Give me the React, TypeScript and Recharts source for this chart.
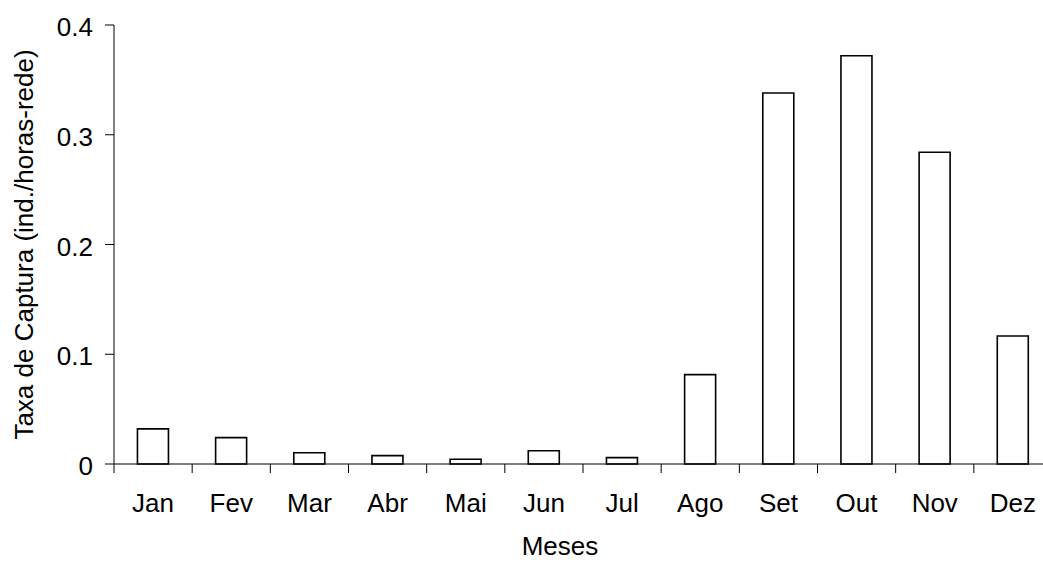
import React from 'react';
import { BarChart, Bar, XAxis, YAxis, Label } from 'recharts';

const months = ['Jan', 'Fev', 'Mar', 'Abr', 'Mai', 'Jun', 'Jul', 'Ago', 'Set', 'Out', 'Nov', 'Dez'];
const captureRate = [0.032, 0.024, 0.0103, 0.0076, 0.0043, 0.0121, 0.0058, 0.0814, 0.338, 0.372, 0.284, 0.1166];
const yTicks = [0, 0.1, 0.2, 0.3, 0.4];

const data = months.map((m, i) => ({ month: m, rate: captureRate[i] }));

const FONT = '"Liberation Sans", Arial, Helvetica, sans-serif';
const X_TICK_MARGIN = 30;

const XTick = (props: any) => {
  const { x, y, payload, index } = props;
  const half = payload && payload.offset ? payload.offset : 39.08;
  const axisY = y - X_TICK_MARGIN;
  const isLast = index === months.length - 1;
  return (
    <g>
      <line x1={x - half} x2={x - half} y1={axisY} y2={axisY + 9} stroke="#000" strokeWidth={1} />
      {isLast && (
        <line x1={x + half} x2={x + half} y1={axisY} y2={axisY + 9} stroke="#000" strokeWidth={1} />
      )}
      <text x={x} y={y + 18.3} textAnchor="middle" fontSize={26} fontFamily={FONT} fill="#000">
        {payload.value}
      </text>
    </g>
  );
};

const YTitle = (props: any) => {
  const vb = props.viewBox || { x: 0, y: 25, width: 114, height: 439 };
  const cy = vb.y + vb.height / 2;
  return (
    <text
      x={0}
      y={0}
      transform={`translate(32.5, ${cy}) rotate(-90)`}
      textAnchor="middle"
      fontSize={26}
      fontFamily={FONT}
      fill="#000"
    >
      Taxa de Captura (ind./horas-rede)
    </text>
  );
};

const XTitle = (props: any) => {
  const vb = props.viewBox || { x: 114, y: 464, width: 938, height: 98 };
  const cx = vb.x + vb.width / 2 - 23;
  return (
    <text x={cx} y={vb.y + 91} textAnchor="middle" fontSize={26} fontFamily={FONT} fill="#000">
      Meses
    </text>
  );
};

export default function App() {
  return (
    <div
      style={{
        position: 'fixed',
        left: 0,
        top: 0,
        width: 1043,
        height: 562,
        overflow: 'hidden',
        background: '#fff',
      }}
    >
      <BarChart
        width={1062}
        height={562}
        data={data}
        margin={{ top: 25, right: 10, bottom: 0, left: 0 }}
        barCategoryGap="30%"
        style={{ fontFamily: FONT }}
      >
        <XAxis
          dataKey="month"
          height={98}
          interval={0}
          tickLine={false}
          tickSize={0}
          tickMargin={X_TICK_MARGIN}
          tick={<XTick />}
          axisLine={{ stroke: '#000', strokeWidth: 1 }}
        >
          <Label content={<XTitle />} />
        </XAxis>
        <YAxis
          width={114}
          domain={[0, 0.4]}
          ticks={yTicks}
          interval={0}
          tickSize={9}
          tickMargin={12}
          tickFormatter={(v: number) => (v === 0 ? '0' : v.toFixed(1))}
          tick={{ fontSize: 26, fill: '#000', fontFamily: FONT, dy: 2 }}
          tickLine={{ stroke: '#000', strokeWidth: 1 }}
          axisLine={{ stroke: '#000', strokeWidth: 1 }}
        >
          <Label content={<YTitle />} />
        </YAxis>
        <Bar dataKey="rate" fill="#fff" stroke="#000" strokeWidth={1.6} isAnimationActive={false} />
      </BarChart>
    </div>
  );
}
